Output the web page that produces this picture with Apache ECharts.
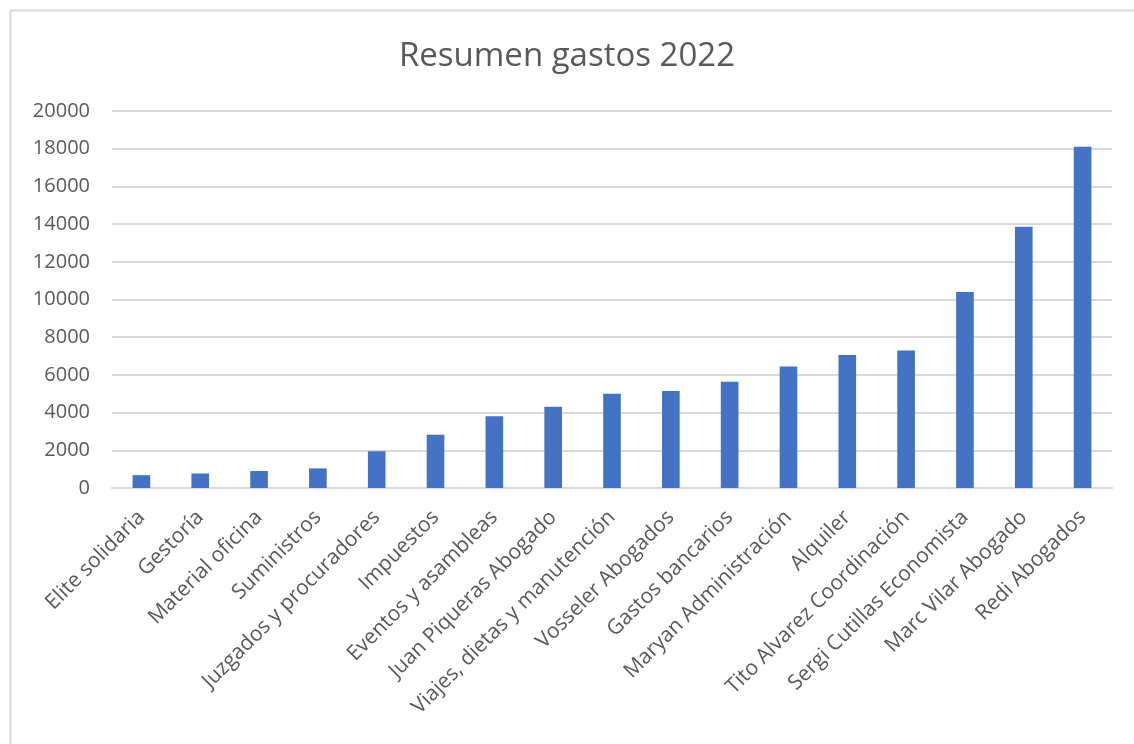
<!DOCTYPE html>
<html>
<head>
<meta charset="utf-8">
<script src="https://cdn.jsdelivr.net/npm/echarts@6/dist/echarts.min.js"></script>
<style>
html,body{margin:0;padding:0;background:#fff;}
#chart{width:1134px;height:744px;}
</style>
</head>
<body>
<div id="chart"></div>
<script>
const categories = [
  "Elite solidaria","Gestoría","Material oficina","Suministros","Juzgados y procuradores",
  "Impuestos","Eventos y asambleas","Juan Piqueras Abogado","Viajes, dietas y manutención",
  "Vosseler Abogados","Gastos bancarios","Maryan Administración","Alquiler",
  "Tito Alvarez Coordinación","Sergi Cutillas Economista","Marc Vilar Abogado","Redi Abogados"
];
const values = [680, 770, 900, 1040, 1950, 2820, 3810, 4310, 5000, 5140, 5640, 6440, 7060, 7290, 10400, 13860, 18100];
const title = "Resumen gastos 2022";

const chart = echarts.init(document.getElementById('chart'));
const font = "'Open Sans', sans-serif";
chart.setOption({
  animation: false,
  backgroundColor: '#ffffff',
  textStyle: { fontFamily: font },
  title: {
    text: title, left: 'center', top: 35,
    textStyle: { fontFamily: font, fontSize: 33, fontWeight: 'normal', color: '#595959' }
  },
  graphic: [{
    type: 'rect', left: 8, top: 8, silent: true,
    shape: { width: 1300, height: 900 },
    style: { fill: 'none', stroke: '#d9d9d9', lineWidth: 2 }
  }],
  grid: { left: 112, right: 22, top: 111, bottom: 256 },
  xAxis: {
    type: 'category', data: categories,
    axisTick: { show: false },
    axisLine: { lineStyle: { color: '#d9d9d9', width: 2 } },
    axisLabel: { rotate: 45, interval: 0, margin: 26, color: '#595959', fontSize: 21, fontFamily: font }
  },
  yAxis: {
    type: 'value', min: 0, max: 20000, interval: 2000,
    axisLine: { show: false }, axisTick: { show: false },
    splitLine: { lineStyle: { color: '#d9d9d9', width: 2 } },
    axisLabel: { margin: 22, color: '#595959', fontSize: 20, fontFamily: font, formatter: v => String(v) }
  },
  series: [{
    type: 'bar', data: values, barWidth: '30%',
    itemStyle: { color: '#4472C4' }
  }]
});
</script>
</body>
</html>
